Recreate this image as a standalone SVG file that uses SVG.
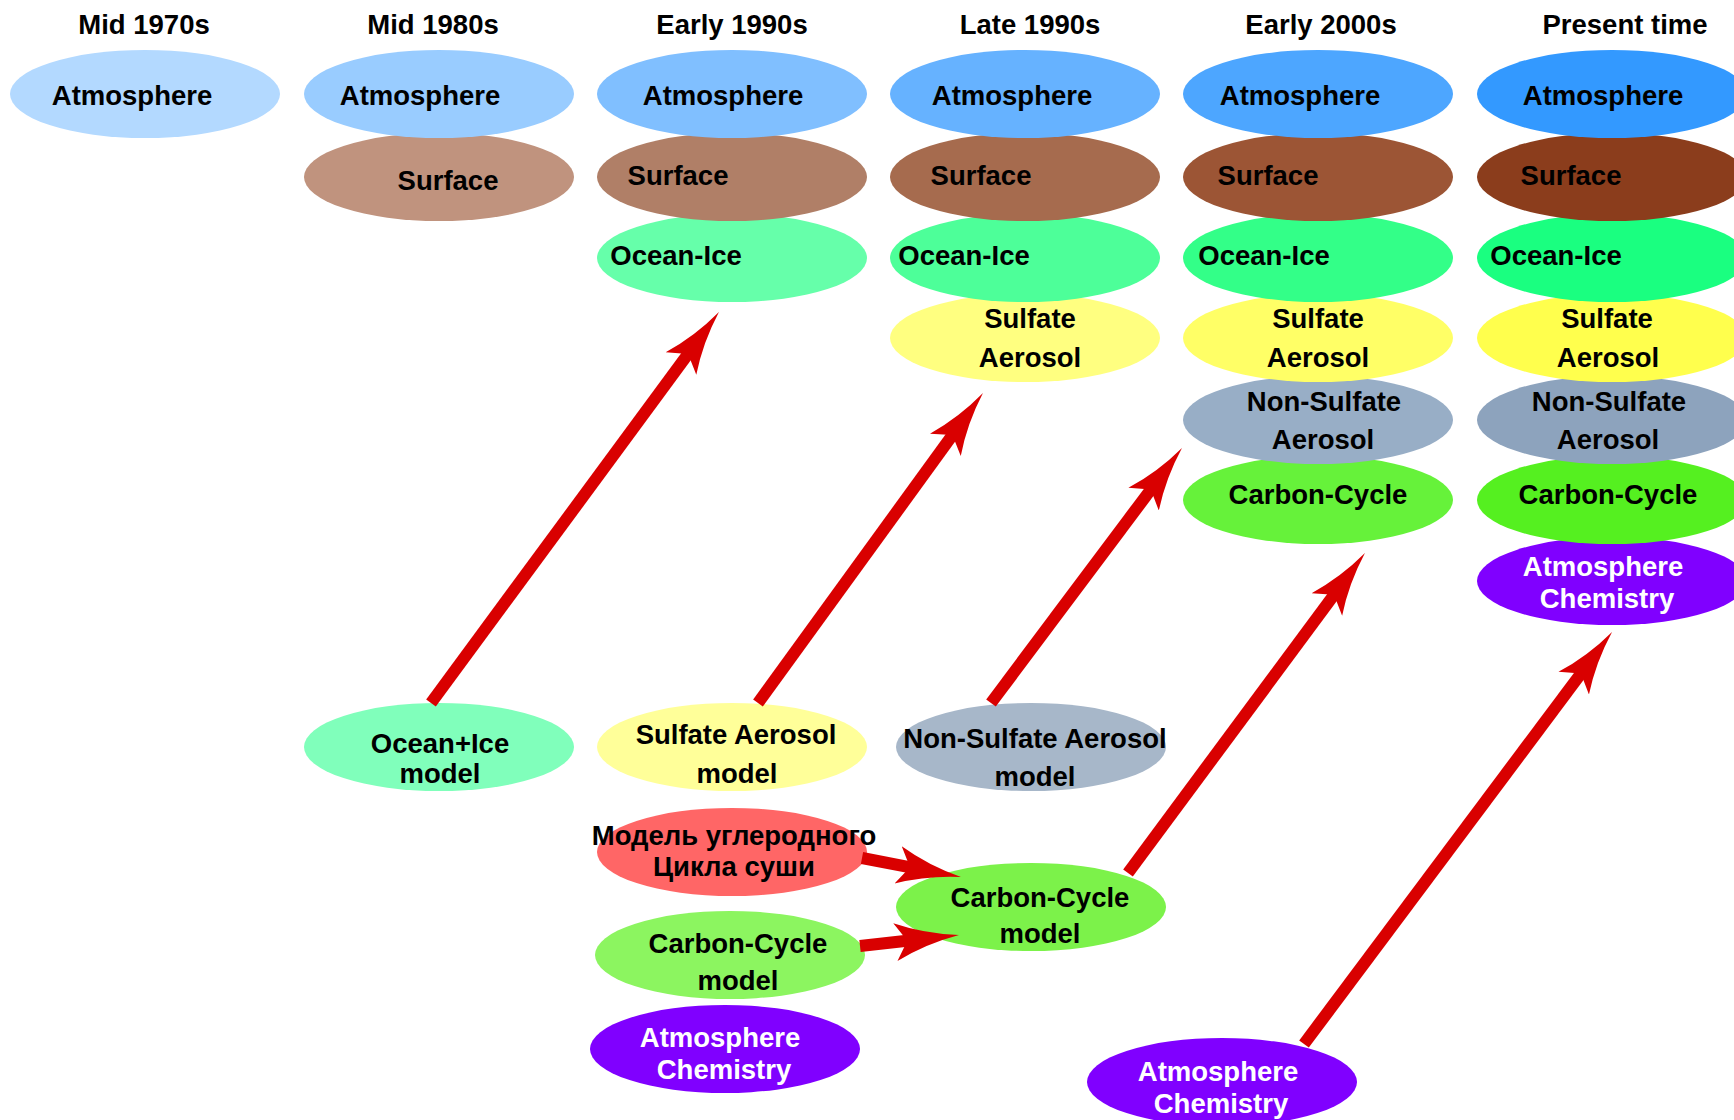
<svg xmlns="http://www.w3.org/2000/svg" width="1734" height="1120" viewBox="0 0 1734 1120">
<style>
.t{font-family:"Liberation Sans",Arial,"DejaVu Sans",sans-serif;font-weight:bold;font-size:27.5px;text-anchor:middle;fill:#000}
.w{fill:#fff}
.c{stroke:#D90000;stroke-width:12;fill:none;marker-end:url(#ah)}
</style>
<defs>
<marker id="ah" markerUnits="userSpaceOnUse" viewBox="0 -20 64 40" markerWidth="64" markerHeight="40" refX="14" refY="0" orient="auto">
<path d="M64 0 Q30 5 0 19 L12 0 L0 -19 Q30 -5 64 0 Z" fill="#D90000"/>
</marker>
</defs>
<rect width="1734" height="1120" fill="#fff"/>
<g id="titles">
<text class="t" x="144" y="33.5">Mid 1970s</text>
<text class="t" x="433" y="33.5">Mid 1980s</text>
<text class="t" x="732" y="33.5">Early 1990s</text>
<text class="t" x="1030" y="33.5">Late 1990s</text>
<text class="t" x="1321" y="33.5">Early 2000s</text>
<text class="t" x="1625" y="33.5">Present time</text>
</g>
<!-- Mid 1970s -->
<g id="atm-1970"><ellipse cx="145" cy="94" rx="135" ry="44" fill="#B3D9FF"/><text class="t" x="132" y="105">Atmosphere</text></g>
<!-- Mid 1980s -->
<g id="sfc-1980"><ellipse cx="439" cy="177" rx="135" ry="44" fill="#C0937E"/><text class="t" x="448" y="190">Surface</text></g>
<g id="atm-1980"><ellipse cx="439" cy="94" rx="135" ry="44" fill="#99CCFF"/><text class="t" x="420" y="105">Atmosphere</text></g>
<!-- Early 1990s -->
<g id="ocn-1990e"><ellipse cx="732" cy="258" rx="135" ry="44" fill="#66FFAA"/><text class="t" x="676" y="265">Ocean-Ice</text></g>
<g id="sfc-1990e"><ellipse cx="732" cy="177" rx="135" ry="44" fill="#B07F67"/><text class="t" x="678" y="185">Surface</text></g>
<g id="atm-1990e"><ellipse cx="732" cy="94" rx="135" ry="44" fill="#80BFFF"/><text class="t" x="723" y="105">Atmosphere</text></g>
<!-- Late 1990s -->
<g id="sul-1990l"><ellipse cx="1025" cy="338" rx="135" ry="44" fill="#FFFF80"/><text class="t" x="1030" y="328">Sulfate</text><text class="t" x="1030" y="367">Aerosol</text></g>
<g id="ocn-1990l"><ellipse cx="1025" cy="258" rx="135" ry="44" fill="#4DFF99"/><text class="t" x="964" y="265">Ocean-Ice</text></g>
<g id="sfc-1990l"><ellipse cx="1025" cy="177" rx="135" ry="44" fill="#A66B4E"/><text class="t" x="981" y="185">Surface</text></g>
<g id="atm-1990l"><ellipse cx="1025" cy="94" rx="135" ry="44" fill="#66B2FF"/><text class="t" x="1012" y="105">Atmosphere</text></g>
<!-- Early 2000s -->
<g id="cc-2000"><ellipse cx="1318" cy="500" rx="135" ry="44" fill="#66F23A"/><text class="t" x="1318" y="504">Carbon-Cycle</text></g>
<g id="nsa-2000"><ellipse cx="1318" cy="420" rx="135" ry="44" fill="#98AEC6"/><text class="t" x="1324" y="411">Non-Sulfate</text><text class="t" x="1323" y="449">Aerosol</text></g>
<g id="sul-2000"><ellipse cx="1318" cy="338" rx="135" ry="44" fill="#FFFF66"/><text class="t" x="1318" y="328">Sulfate</text><text class="t" x="1318" y="367">Aerosol</text></g>
<g id="ocn-2000"><ellipse cx="1318" cy="258" rx="135" ry="44" fill="#33FF88"/><text class="t" x="1264" y="265">Ocean-Ice</text></g>
<g id="sfc-2000"><ellipse cx="1318" cy="177" rx="135" ry="44" fill="#9C5535"/><text class="t" x="1268" y="185">Surface</text></g>
<g id="atm-2000"><ellipse cx="1318" cy="94" rx="135" ry="44" fill="#4DA6FF"/><text class="t" x="1300" y="105">Atmosphere</text></g>
<!-- Present -->
<g id="chem-now"><ellipse cx="1612" cy="581" rx="135" ry="44" fill="#8000FF"/><text class="t w" x="1603" y="576">Atmosphere</text><text class="t w" x="1607" y="608">Chemistry</text></g>
<g id="cc-now"><ellipse cx="1612" cy="500" rx="135" ry="44" fill="#55F020"/><text class="t" x="1608" y="504">Carbon-Cycle</text></g>
<g id="nsa-now"><ellipse cx="1612" cy="420" rx="135" ry="44" fill="#8DA3BD"/><text class="t" x="1609" y="411">Non-Sulfate</text><text class="t" x="1608" y="449">Aerosol</text></g>
<g id="sul-now"><ellipse cx="1612" cy="338" rx="135" ry="44" fill="#FFFF4D"/><text class="t" x="1607" y="328">Sulfate</text><text class="t" x="1608" y="367">Aerosol</text></g>
<g id="ocn-now"><ellipse cx="1612" cy="258" rx="135" ry="44" fill="#1AFF80"/><text class="t" x="1556" y="265">Ocean-Ice</text></g>
<g id="sfc-now"><ellipse cx="1612" cy="177" rx="135" ry="44" fill="#8B3D1C"/><text class="t" x="1571" y="185">Surface</text></g>
<g id="atm-now"><ellipse cx="1612" cy="94" rx="135" ry="44" fill="#3399FF"/><text class="t" x="1603" y="105">Atmosphere</text></g>
<!-- Component models -->
<g id="ocean-model"><ellipse cx="439" cy="747" rx="135" ry="44" fill="#80FFBB"/><text class="t" x="440" y="753">Ocean+Ice</text><text class="t" x="440" y="783">model</text></g>
<g id="sulfate-model"><ellipse cx="732" cy="747" rx="135" ry="44" fill="#FFFF99"/><text class="t" x="736" y="744">Sulfate Aerosol</text><text class="t" x="737" y="783">model</text></g>
<g id="nonsulfate-model"><ellipse cx="1031" cy="747" rx="135" ry="44" fill="#A7B7C9"/><text class="t" x="1035" y="748">Non-Sulfate Aerosol</text><text class="t" x="1035" y="786">model</text></g>
<g id="land-carbon-model"><ellipse cx="732" cy="852" rx="135" ry="44" fill="#FF6666"/><text class="t" x="734" y="845">Модель углеродного</text><text class="t" x="734" y="876">Цикла суши</text></g>
<g id="cc-model-a"><ellipse cx="730" cy="955" rx="135" ry="44" fill="#8CF560"/><text class="t" x="738" y="953">Carbon-Cycle</text><text class="t" x="738" y="990">model</text></g>
<g id="chem-model-a"><ellipse cx="725" cy="1049" rx="135" ry="44" fill="#8000FF"/><text class="t w" x="720" y="1047">Atmosphere</text><text class="t w" x="724" y="1079">Chemistry</text></g>
<g id="cc-model-b"><ellipse cx="1031" cy="907" rx="135" ry="44" fill="#7CF24A"/><text class="t" x="1040" y="907">Carbon-Cycle</text><text class="t" x="1040" y="943">model</text></g>
<g id="chem-model-b"><ellipse cx="1222" cy="1082" rx="135" ry="44" fill="#8000FF"/><text class="t w" x="1218" y="1081">Atmosphere</text><text class="t w" x="1221" y="1113">Chemistry</text></g>
<g id="connectors">
<line class="c" x1="431" y1="703" x2="689.3" y2="352.3"/>
<line class="c" x1="758" y1="703" x2="953.6" y2="433.5"/>
<line class="c" x1="991" y1="703" x2="1152" y2="488"/>
<line class="c" x1="1128" y1="873" x2="1335.2" y2="593.2"/>
<line class="c" x1="1304" y1="1044" x2="1582.1" y2="672"/>
<line class="c" x1="862" y1="858" x2="911.9" y2="867.6"/>
<line class="c" x1="860" y1="946" x2="909.3" y2="940.5"/>
</g>
</svg>
